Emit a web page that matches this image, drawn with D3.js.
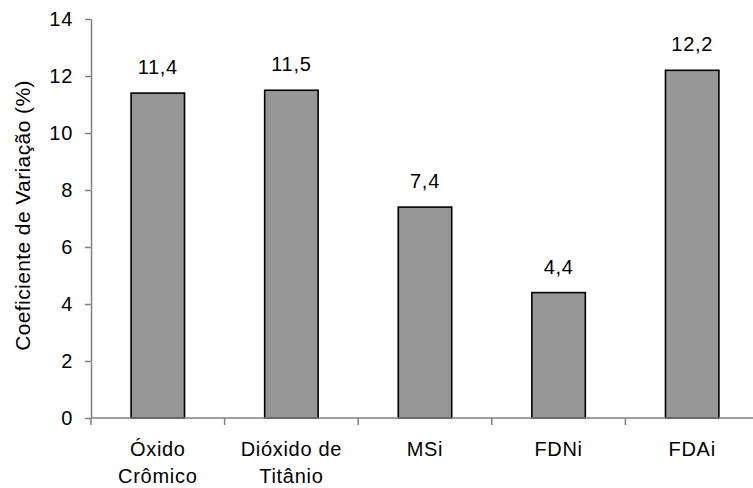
<!DOCTYPE html>
<html>
<head>
<meta charset="utf-8">
<script src="https://cdn.jsdelivr.net/npm/d3@7/dist/d3.min.js"></script>
<style>
  html, body { margin: 0; padding: 0; background: #fff; }
  svg text { font-family: "Liberation Sans", Arial, sans-serif; fill: #000; }
</style>
</head>
<body>
<svg id="chart" width="753" height="488"></svg>
<script>
// Coefficient of variation for each marker / method
const categories = [["Óxido", "Crômico"], ["Dióxido de", "Titânio"], ["MSi"], ["FDNi"], ["FDAi"]];
const values = [11.4, 11.5, 7.4, 4.4, 12.2];
const yTicks = [0, 2, 4, 6, 8, 10, 12, 14];
const yTitle = "Coeficiente de Variação (%)";

const svg = d3.select("#chart");
const plotLeft = 91, plotRight = 759, plotTop = 19, plotBottom = 418;
const spacing = "0.7px";

const keys = categories.map(c => c.join(" "));
const x = d3.scaleBand().domain(keys).range([plotLeft, plotRight]).paddingInner(0.6).paddingOuter(0.3);
const y = d3.scaleLinear().domain([0, 14]).range([plotBottom, plotTop]);
const fmt = v => d3.format(".1f")(v).replace(".", ",");

// Bars
svg.append("g").selectAll("rect").data(values).join("rect")
  .attr("x", (d, i) => x(keys[i]))
  .attr("y", d => y(d))
  .attr("width", x.bandwidth())
  .attr("height", d => y(0) - y(d))
  .attr("fill", "#969696")
  .attr("stroke", "#000")
  .attr("stroke-width", 1.6);

// Value labels above bars
svg.append("g").selectAll("text").data(values).join("text")
  .attr("x", (d, i) => x(keys[i]) + x.bandwidth() / 2)
  .attr("y", d => y(d) - 19)
  .attr("text-anchor", "middle")
  .attr("font-size", 20)
  .attr("letter-spacing", spacing)
  .text(fmt);

// Y axis
const yAxis = svg.append("g").attr("transform", `translate(${plotLeft},0)`)
  .call(d3.axisLeft(y).tickValues(yTicks).tickSize(6).tickPadding(12).tickSizeOuter(0));
yAxis.select(".domain").attr("stroke", "#808080").attr("stroke-width", 1.5);
yAxis.selectAll(".tick line").attr("stroke", "#808080").attr("stroke-width", 1.5);
yAxis.selectAll(".tick text").attr("font-size", 20).attr("font-family", "Liberation Sans, Arial, sans-serif")
  .attr("fill", "#000").attr("letter-spacing", spacing);

// X axis line with ticks at category boundaries
const step = x.step();
const x0 = x.range()[0];
const bounds = d3.range(keys.length + 1).map(i => x0 + i * step);
const xg = svg.append("g");
xg.append("line").attr("x1", x0).attr("x2", x.range()[1]).attr("y1", plotBottom).attr("y2", plotBottom)
  .attr("stroke", "#808080").attr("stroke-width", 1.5);
xg.selectAll("line.tick").data(bounds).join("line").attr("class", "tick")
  .attr("x1", d => d).attr("x2", d => d).attr("y1", plotBottom).attr("y2", plotBottom + 7)
  .attr("stroke", "#808080").attr("stroke-width", 1.5);

// Category labels (one or two lines)
const cat = svg.append("g").selectAll("text").data(categories).join("text")
  .attr("x", (d, i) => x(keys[i]) + x.bandwidth() / 2)
  .attr("y", 456)
  .attr("text-anchor", "middle")
  .attr("font-size", 20)
  .attr("letter-spacing", spacing);
cat.selectAll("tspan").data(d => d).join("tspan")
  .attr("x", function () { return this.parentNode.getAttribute("x"); })
  .attr("dy", (d, i) => i === 0 ? 0 : 27)
  .text(d => d);

// Y axis title
svg.append("text")
  .attr("transform", `translate(30,${(78 + 353) / 2}) rotate(-90)`)
  .attr("text-anchor", "middle")
  .attr("font-size", 21)
  .attr("letter-spacing", "0.4px")
  .text(yTitle);
</script>
</body>
</html>
